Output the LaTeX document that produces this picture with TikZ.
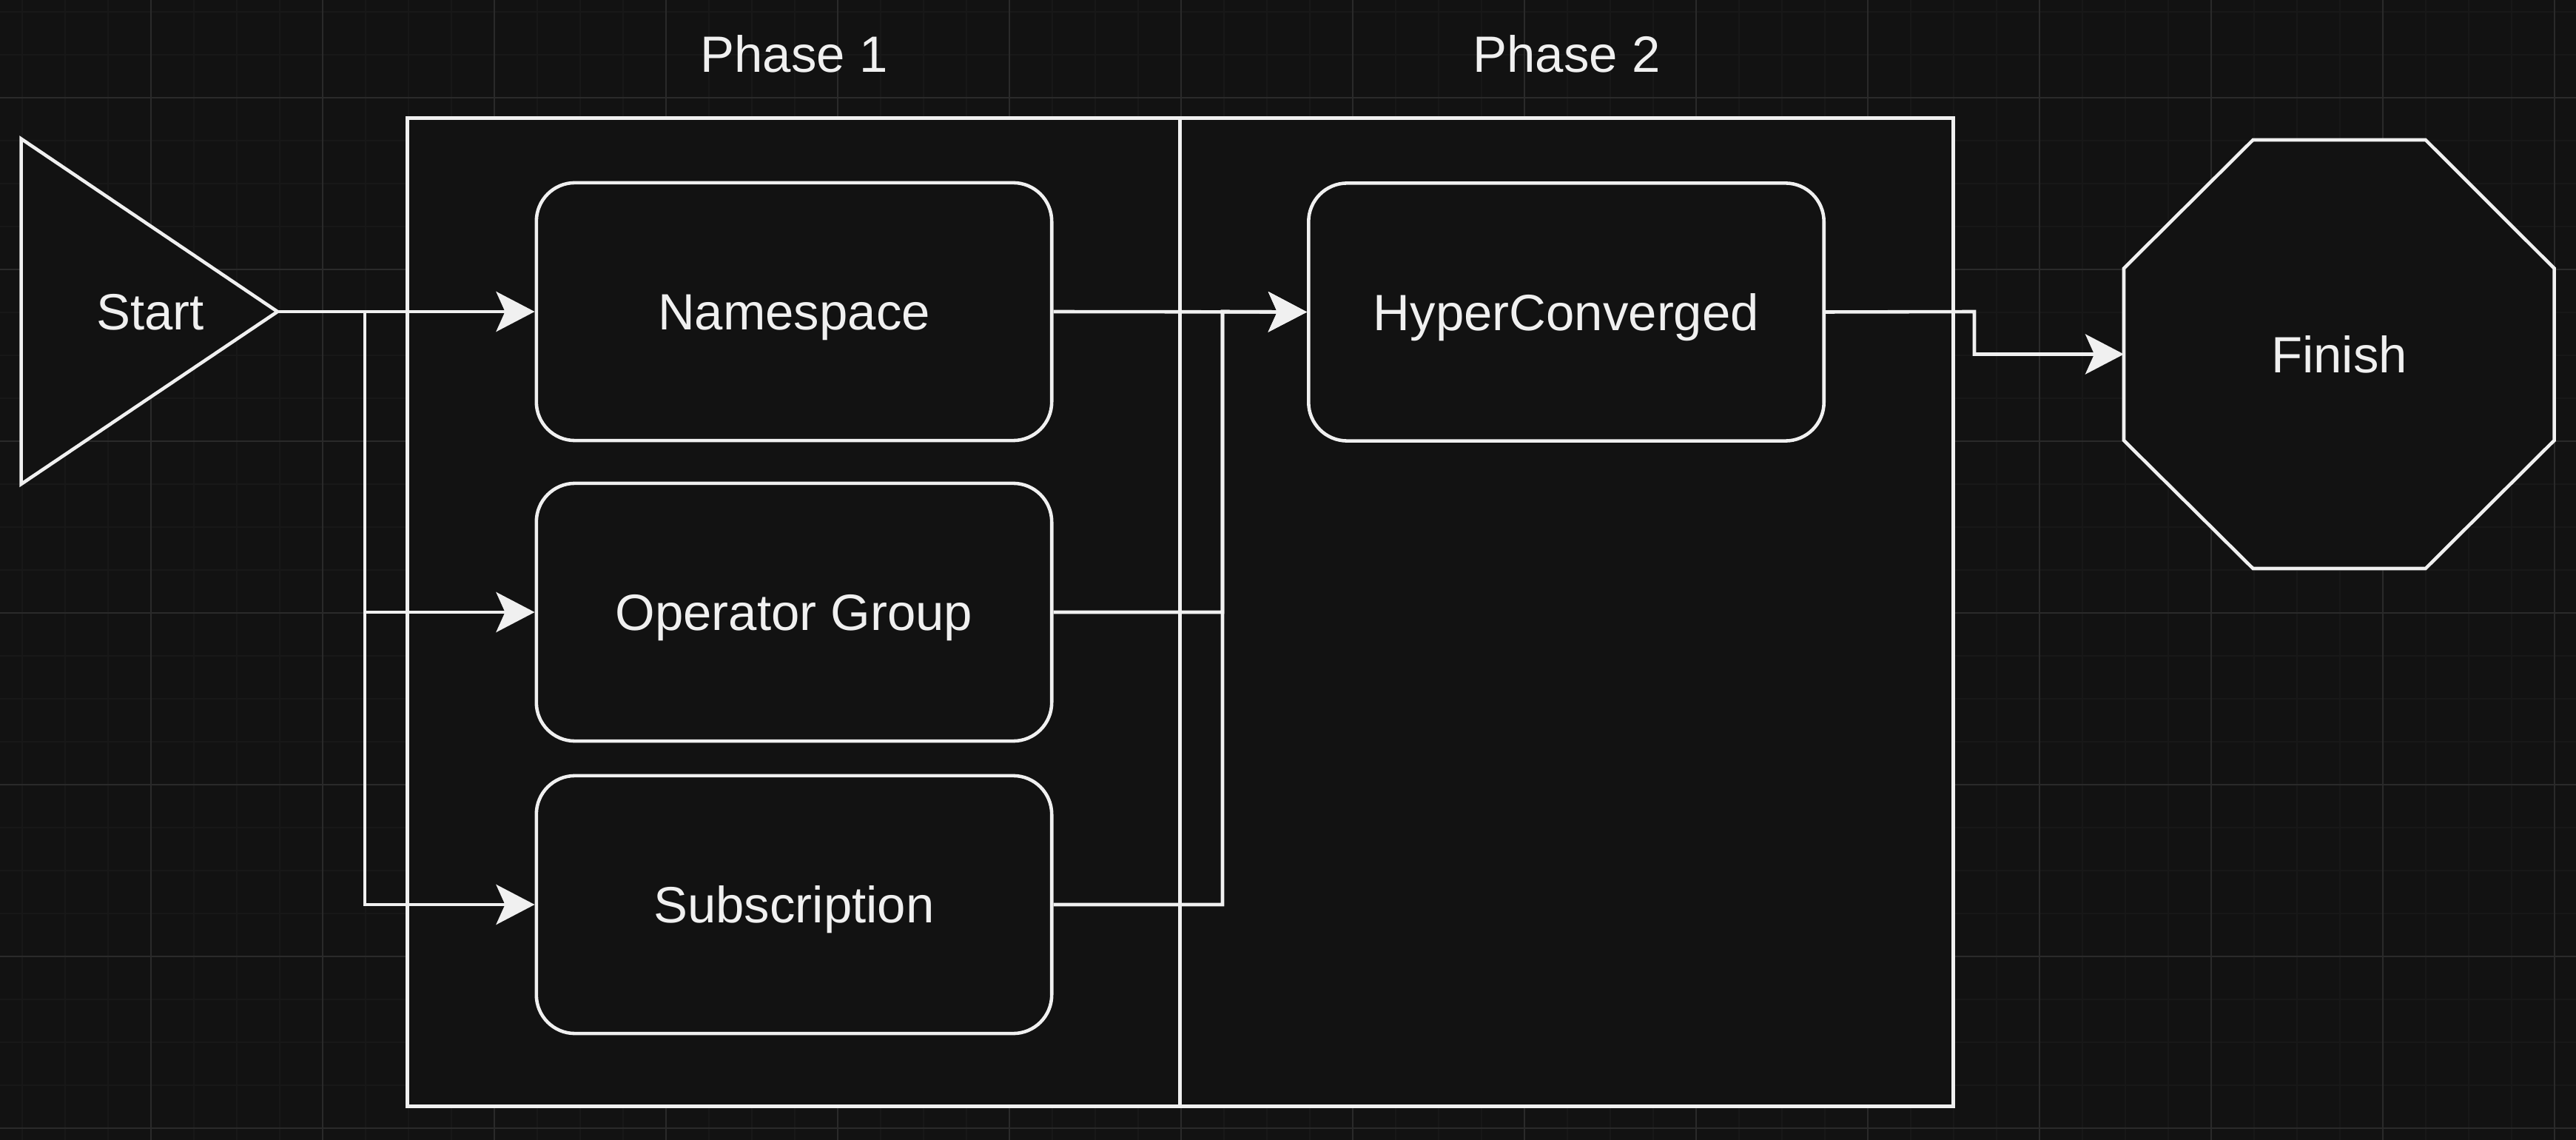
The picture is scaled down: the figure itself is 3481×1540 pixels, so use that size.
\documentclass[tikz,border=0pt]{standalone}
\usepackage{fontspec}
\setmainfont{Liberation Sans}
\usetikzlibrary{arrows.meta}
\definecolor{bg}{HTML}{121212}
\definecolor{fg}{HTML}{F0F0F0}
\definecolor{gridminor}{HTML}{181818}
\definecolor{gridmajor}{HTML}{2A2A2A}
\begin{document}
\begin{tikzpicture}[x=0.01cm,y=-0.01cm,
  lbl/.style={text=fg, font=\fontsize{19.6pt}{23pt}\selectfont, text height=14.2pt, text depth=0pt, inner sep=0pt},
  procbox/.style={lbl, draw=fg, fill=bg, line width=1.3pt, rounded corners=0.52cm, minimum width=6.96cm, minimum height=3.48cm},
  lane/.style={draw=fg, fill=bg, line width=1.3pt, minimum width=10.44cm, minimum height=13.34cm, inner sep=0pt},
  conn/.style={draw=fg, line width=1.3pt, -{Stealth[length=0.52cm, width=0.54cm, inset=0.12cm]}},
  shapeline/.style={draw=fg, fill=bg, line width=1.3pt, line join=miter},
  gminor/.style={draw=gridminor, line width=0.35pt},
  gmajor/.style={draw=gridmajor, line width=0.4pt},
]
% background and grid
\fill[bg] (0,0) rectangle (3481,1540);
\useasboundingbox (0,0) rectangle (3481,1540);
\foreach \xx in {30,88,...,3480} \draw[gminor] (\xx,0) -- (\xx,1540);
\foreach \yy in {16,74,...,1540} \draw[gminor] (0,\yy) -- (3481,\yy);
\foreach \xx in {204,436,...,3480} \draw[gmajor] (\xx,0) -- (\xx,1540);
\foreach \yy in {132,364,...,1540} \draw[gmajor] (0,\yy) -- (3481,\yy);

% lanes
\node[lane] (lane1) at (1073,827) {};
\node[lane] (lane2) at (2117,827) {};
\node[lbl] (ph1) at (1073,72.5) {Phase 1};
\node[lbl] (ph2) at (2117,72.5) {Phase 2};

% start triangle
\draw[shapeline] (28.6,187.5) -- (375,421) -- (28.6,654) -- cycle;
\node[lbl] (start) at (203,421) {Start};
\coordinate (starttip) at (375,421);

% finish octagon
\draw[shapeline] (3044.5,189) -- (3277.7,189) -- (3451.5,362.5) -- (3451.5,595) -- (3277.7,768) -- (3044.5,768) -- (2870,595) -- (2870,362.5) -- cycle;
\node[lbl] (fin) at (3161,478.5) {Finish};
\coordinate (finw) at (2870,478.5);

% process boxes
\node[procbox] (ns) at (1073,421) {Namespace};
\node[procbox] (og) at (1073,827) {Operator Group};
\node[procbox] (sub) at (1073,1222) {Subscription};
\node[procbox] (hc) at (2116.5,421.5) {HyperConverged};

% connectors
\coordinate (bx) at (493,421);
\coordinate (cx) at (1652,421);
\coordinate (hx) at (2668,421);
\draw[conn] (starttip) -- (ns.west);
\draw[conn] (starttip) -- (bx) |- (og.west);
\draw[conn] (starttip) -- (bx) |- (sub.west);
\draw[conn] (ns.east) -- (hc.west);
\draw[conn] (og.east) -| (cx) -- (hc.west);
\draw[conn] (sub.east) -| (cx) -- (hc.west);
\draw[conn] (hc.east) -- (hx) |- (finw);
\end{tikzpicture}
\end{document}
